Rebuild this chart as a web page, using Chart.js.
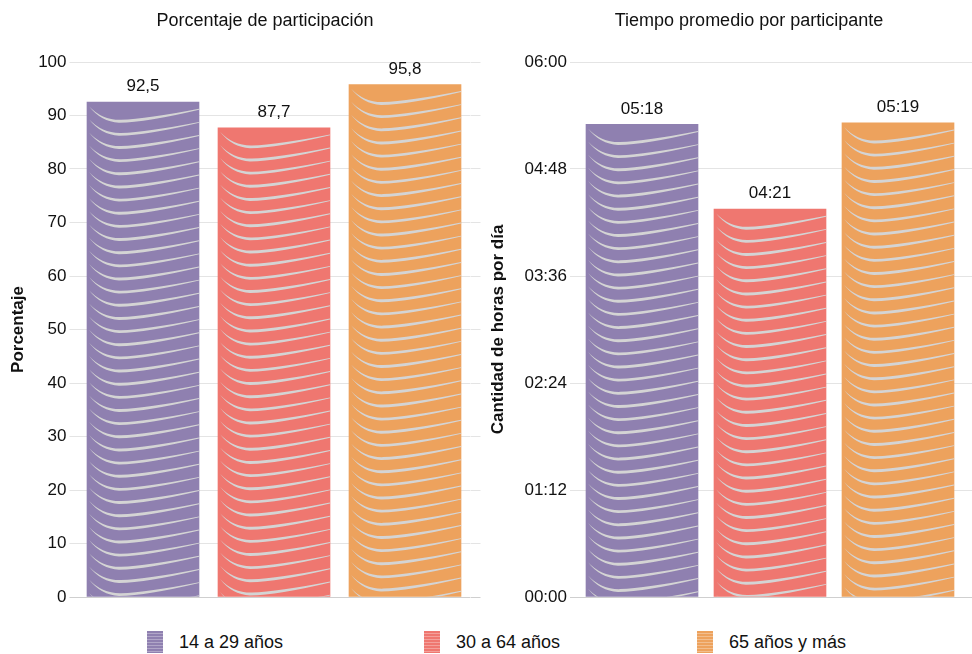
<!DOCTYPE html>
<html>
<head>
<meta charset="utf-8">
<script src="https://cdn.jsdelivr.net/npm/chart.js@4.4.0/dist/chart.umd.min.js"></script>
<style>
  body { margin: 0; background: #fff; font-family: "Liberation Sans", Arial, sans-serif; color: #222; }
  #wrap { position: relative; width: 972px; height: 654px; overflow: hidden; }
  .panel { position: absolute; top: 0; width: 486px; height: 620px; }
  .ptitle { position: absolute; top: 10px; font-size: 18px; white-space: nowrap; transform: translateX(-50%); color: #111; }
  #legend { position: absolute; top: 631px; left: 147px; display: grid; grid-template-columns: 277px 273px 200px; }
  .item { display: flex; align-items: center; font-size: 18px; color: #111; }
  .sw { width: 16px; height: 22px; margin-right: 16px; }
</style>
</head>
<body>
<div id="wrap">
  <div class="panel" style="left:0"><canvas id="left_canvas" width="486" height="620"></canvas></div>
  <div class="panel" style="left:486px"><canvas id="right_canvas" width="486" height="620"></canvas></div>
  <div class="ptitle" style="left:265px">Porcentaje de participación</div>
  <div class="ptitle" style="left:749px">Tiempo promedio por participante</div>
  <div id="legend"></div>
</div>
<script>
//DATA
var groups = ["14 a 29 años", "30 a 64 años", "65 años y más"];
var groupColors = ["#8f80b0", "#ef7770", "#eda25d"];
var participacion = [92.5, 87.7, 95.8];       // porcentaje
var minutosPromedio = [318, 261, 319];        // minutos por dia (05:18, 04:21, 05:19)
var timeTickLabels = ["00:00", "01:12", "02:24", "03:36", "04:48", "06:00"];

var gridColor = function(ctx) {
    return ctx.tick && ctx.tick.value == 0 ? "#cfcfcf" : "#e4e4e4";
};

function fmtPct(v) {
    return Number(v).toFixed(1).replace(".", ",");
}

function fmtTime(m) {
    var h = Math.floor(m / 60), mm = Math.round(m % 60);
    return (h < 10 ? "0" : "") + h + ":" + (mm < 10 ? "0" : "") + mm;
}

var labelFormat = { left_canvas: fmtPct, right_canvas: fmtTime };

//swoosh decoration on every bar + value label above it
var barDeco = {
    id: "barDeco",
    afterDatasetsDraw: function(chart) {
        var ctx = chart.ctx;
        var meta = chart.getDatasetMeta(0);
        var fmt = labelFormat[chart.canvas.id];
        meta.data.forEach(function(bar, i) {
            var L = bar.x - bar.width / 2, w = bar.width;
            var top = bar.y, bottom = bar.base;
            ctx.save();
            ctx.beginPath();
            ctx.rect(L, top, w, bottom - top);
            ctx.clip();
            ctx.fillStyle = "#d4d4d4";
            for (var y0 = top + 4; y0 < bottom + 2; y0 += 13.15) {
                ctx.beginPath();
                ctx.moveTo(L + 2, y0);
                ctx.quadraticCurveTo(L + 14, y0 + 15.5, L + 32, y0 + 16.5);
                ctx.quadraticCurveTo(L + 60, y0 + 16, L + w, y0 + 3.5);
                ctx.lineTo(L + w, y0 + 2.6);
                ctx.quadraticCurveTo(L + 60, y0 + 12.8, L + 34, y0 + 13.6);
                ctx.quadraticCurveTo(L + 15, y0 + 14, L + 2, y0);
                ctx.closePath();
                ctx.fill();
            }
            ctx.restore();
            ctx.save();
            ctx.fillStyle = "#111";
            ctx.font = "17px 'Liberation Sans', Arial, sans-serif";
            ctx.textAlign = "center";
            ctx.textBaseline = "bottom";
            ctx.fillText(fmt(chart.data.datasets[0].data[i]), bar.x, top - 7);
            ctx.restore();
        });
    }
};

function makeChart(canvasId, values, yOpts, axisW, padRight, titleText, titlePad) {
    var ctx = document.getElementById(canvasId).getContext("2d");
    return new Chart(ctx, {
        type: "bar",
        data: {
            labels: groups,
            datasets: [{
                data: values,
                backgroundColor: groupColors,
                borderWidth: 0,
                barThickness: 112
            }]
        },
        options: {
            responsive: false,
            animation: false,
            layout: { padding: { top: 62, bottom: 23, left: 0, right: padRight } },
            plugins: {
                legend: { display: false },
                tooltip: { enabled: false }
            },
            scales: {
                x: {
                    ticks: { display: false },
                    grid: { display: false },
                    border: { display: false },
                    afterFit: function(s) { s.height = 0; }
                },
                y: Object.assign({
                    position: "left",
                    grid: { color: gridColor, tickLength: 8 },
                    border: { display: false },
                    title: {
                        display: true,
                        text: titleText,
                        color: "#111",
                        font: { family: "'Liberation Sans', Arial, sans-serif", size: 17, weight: "bold" },
                        padding: { top: titlePad, bottom: 0 }
                    },
                    afterFit: function(s) { s.width = axisW; }
                }, yOpts),
                yr: {
                    position: "right",
                    min: yOpts.min,
                    max: yOpts.max,
                    ticks: { display: false, stepSize: yOpts.ticks.stepSize },
                    grid: { color: gridColor, drawOnChartArea: false, tickLength: 10 },
                    border: { display: false },
                    afterFit: function(s) { s.width = 10; }
                }
            }
        },
        plugins: [barDeco]
    });
}

var tickFont = { family: "'Liberation Sans', Arial, sans-serif", size: 17 };

makeChart("left_canvas", participacion, {
    min: 0, max: 100,
    ticks: { stepSize: 10, color: "#111", font: tickFont, padding: 3 }
}, 77.5, 5.5, "Porcentaje", 7.8);

makeChart("right_canvas", minutosPromedio, {
    min: 0, max: 360,
    ticks: {
        stepSize: 72, color: "#111", font: tickFont, padding: 3,
        callback: function(v, i) { return timeTickLabels[i]; }
    }
}, 92, 0, "Cantidad de horas por día", 1.8);

//legend
var legendHtml = "";
for (var i = 0; i < groups.length; i++) {
    legendHtml += '<div class="item"><span class="sw" style="background:repeating-linear-gradient(to bottom,' +
        groupColors[i] + ' 0px,' + groupColors[i] + ' 2px,rgba(255,255,255,0.3) 2px,rgba(255,255,255,0.3) 3px),' +
        groupColors[i] + '"></span>' + groups[i] + '</div>';
}
document.getElementById("legend").innerHTML = legendHtml;
</script>
</body>
</html>
